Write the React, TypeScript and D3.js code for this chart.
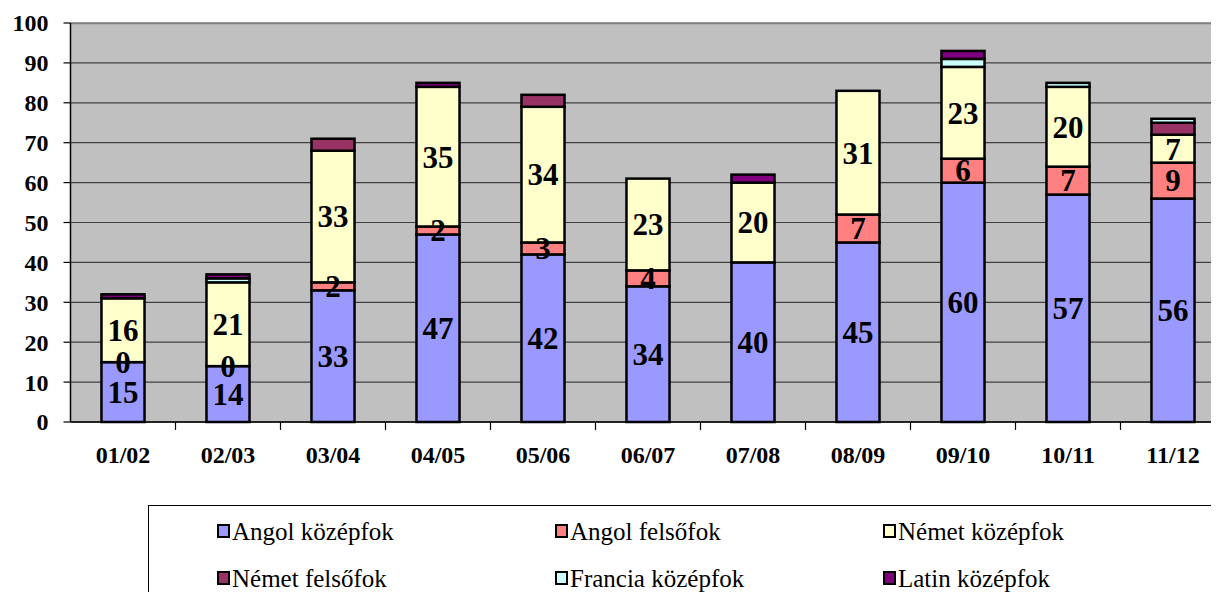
import * as d3 from 'd3'

const years = ['01/02', '02/03', '03/04', '04/05', '05/06', '06/07', '07/08', '08/09', '09/10', '10/11', '11/12']
const seriesNames = ['Angol középfok', 'Angol felsőfok', 'Német középfok', 'Német felsőfok', 'Francia középfok', 'Latin középfok']
const angolKozep = [15, 14, 33, 47, 42, 34, 40, 45, 60, 57, 56]
const angolFelso = [0, 0, 2, 2, 3, 4, 0, 7, 6, 7, 9]
const nemetKozep = [16, 21, 33, 35, 34, 23, 20, 31, 23, 20, 7]
const nemetFelso = [0, 0, 3, 0, 3, 0, 0, 0, 0, 0, 3]
const franciaKozep = [0, 1, 0, 0, 0, 0, 0, 0, 2, 1, 1]
const latinKozep = [1, 1, 0, 1, 0, 0, 2, 0, 2, 0, 0]
const yTicks = [0, 10, 20, 30, 40, 50, 60, 70, 80, 90, 100]
const colors = ['#9999FF', '#FF8080', '#FFFFCC', '#993366', '#CCFFFF', '#800080']
// only the first three series carry value labels, as in the source
const labelled = [true, true, true, false, false, false]

const W = 1219
const H = 592
const FONT = 'Liberation Serif'

export default function App() {
  // svg sits at the body's 8px margin, so everything is shifted 8px up/left
  const left = 62.5
  const band = 105
  const top = 15
  const bottom = 414
  const right = W - 8

  const x = d3.scaleBand<string>().domain(years).range([left, left + band * years.length]).paddingInner(0.59).paddingOuter(0.295)
  const y = d3.scaleLinear().domain([0, 100]).range([bottom, top])

  const rows = years.map((yr, i) => ({
    yr, s0: angolKozep[i], s1: angolFelso[i], s2: nemetKozep[i], s3: nemetFelso[i], s4: franciaKozep[i], s5: latinKozep[i],
  }))
  const stacked = d3.stack<any>().keys(['s0', 's1', 's2', 's3', 's4', 's5'])(rows)

  const colX = [210, 548, 876]
  const rowY = [523, 570]

  return (
    <svg width={W} height={H}>
      {/* plot area */}
      <rect x={left} y={top} width={right - left} height={bottom - top} fill="#C0C0C0" />
      {yTicks.map(t => (
        <line key={'g' + t} x1={left} x2={right} y1={y(t)} y2={y(t)} stroke="#404040" strokeWidth={1.2} />
      ))}
      <line x1={left} x2={right} y1={top + 0.5} y2={top + 0.5} stroke="#808080" strokeWidth={1.5} />

      {/* y axis */}
      <line x1={left} x2={left} y1={top} y2={bottom} stroke="#000" strokeWidth={1.5} />
      {yTicks.map(t => (
        <g key={'y' + t}>
          <line x1={left - 7} x2={left} y1={y(t)} y2={y(t)} stroke="#000" strokeWidth={1.2} />
          <text x={left - 22} y={y(t)} dy="0.35em" textAnchor="end" fontFamily={FONT} fontSize={24} fontWeight="bold">{t}</text>
        </g>
      ))}

      {/* x axis */}
      <line x1={left} x2={right} y1={bottom} y2={bottom} stroke="#000" strokeWidth={1.5} />
      {years.map((yr, i) => (
        <g key={'x' + yr}>
          <line x1={left + band * (i + 1)} x2={left + band * (i + 1)} y1={bottom} y2={bottom + 8} stroke="#000" strokeWidth={1.2} />
          <text x={x(yr)! + x.bandwidth() / 2} y={bottom + 41} textAnchor="middle" fontFamily={FONT} fontSize={24} fontWeight="bold">{yr}</text>
        </g>
      ))}

      {/* bars */}
      {stacked.map((layer, si) => (
        <g key={'s' + si}>
          {layer.map(d => {
            const h = y(d[0]) - y(d[1])
            if (h <= 0) return null
            return <rect key={d.data.yr} x={x(d.data.yr)!} y={y(d[1])} width={x.bandwidth()} height={h}
              fill={colors[si]} stroke="#000" strokeWidth={2.5} />
          })}
        </g>
      ))}

      {/* value labels */}
      {stacked.map((layer, si) => labelled[si] ? (
        <g key={'l' + si}>
          {layer.map(d => {
            const v = d[1] - d[0]
            if (v === 0 && si !== 1) return null
            if (v === 0 && d.data.yr === '07/08') return null
            return <text key={d.data.yr} x={x(d.data.yr)! + x.bandwidth() / 2} y={y((d[0] + d[1]) / 2)} dy="0.35em"
              textAnchor="middle" fontFamily={FONT} fontSize={31} fontWeight="bold">{v}</text>
          })}
        </g>
      ) : null)}

      {/* legend */}
      <rect x={140.5} y={497.5} width={1064} height={100} fill="#fff" stroke="#000" strokeWidth={1} />
      {seriesNames.map((name, i) => {
        const cx = colX[i % 3]
        const cy = rowY[Math.floor(i / 3)]
        return (
          <g key={name}>
            <rect x={cx} y={cy - 6} width={11} height={12} fill={colors[i]} stroke="#000" strokeWidth={2} />
            <text x={cx + 14} y={cy} dy="0.35em" fontFamily={FONT} fontSize={25}>{name}</text>
          </g>
        )
      })}
    </svg>
  )
}
